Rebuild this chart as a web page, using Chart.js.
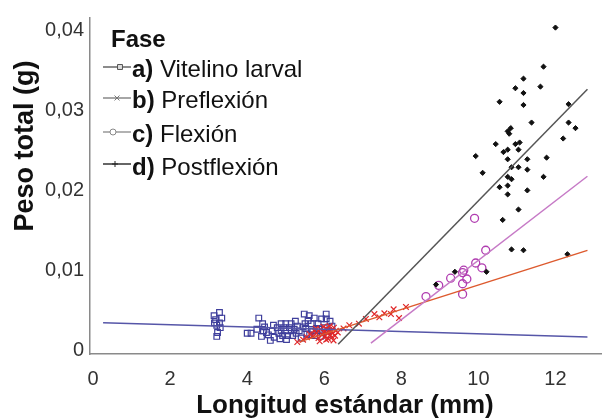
<!DOCTYPE html>
<html><head><meta charset="utf-8">
<script src="https://cdn.jsdelivr.net/npm/chart.js@4.4.1/dist/chart.umd.min.js"></script>
<style>html,body{margin:0;padding:0;background:#fff;} #wrap{width:607px;height:418px;position:relative;}</style>
</head><body><div id="wrap"><canvas id="c" width="607" height="418"></canvas></div>
<script>
// ---- axis ticks / labels ----
const xTicks = [0, 2, 4, 6, 8, 10, 12];
const xTickLabels = ['0', '2', '4', '6', '8', '10', '12'];
const yTicks = [0, 0.01, 0.02, 0.03, 0.04];
const yTickLabels = ['0', '0,01', '0,02', '0,03', '0,04'];
const xTitle = 'Longitud estándar (mm)';
const yTitle = 'Peso total (g)';
const legendTitle = 'Fase';
const seriesKeys = ['a)', 'b)', 'c)', 'd)'];
const seriesNames = ['Vitelino larval', 'Preflexión', 'Flexión', 'Postflexión'];

// ---- a) Vitelino larval ----
const vitelinoX = [3.14,3.28,3.34,3.15,3.21,3.28,3.23,3.21,3.18,3.30,
 4.00,4.10,4.30,4.40,4.42,4.37,4.50,4.60,4.65,4.78,
 4.88,5.00,5.14,4.88,5.00,5.14,4.92,5.05,5.18,5.30,
 5.27,5.40,5.48,5.61,5.74,5.50,5.66,5.52,5.70,5.55,
 5.75,5.84,5.93,6.05,6.05,5.88,6.00,6.20,4.45,4.55,
 4.70,4.82,4.95,5.10,5.22,5.35,5.45,5.58,5.80,5.95,
 6.10,6.15,4.25,4.85,5.25,5.62,5.90,6.08,4.68,5.02];
const vitelinoY = [0.0043,0.0047,0.0040,0.0034,0.0031,0.0034,0.0022,0.0017,0.0038,0.0028,
 0.0021,0.0021,0.0040,0.0033,0.0024,0.0017,0.0022,0.0012,0.0024,0.0028,
 0.0033,0.0033,0.0033,0.0024,0.0024,0.0024,0.0018,0.0018,0.0018,0.0030,
 0.0021,0.0015,0.0045,0.0043,0.0040,0.0033,0.0033,0.0027,0.0024,0.0020,
 0.0018,0.0033,0.0039,0.0039,0.0045,0.0026,0.0028,0.0030,0.0029,0.0019,
 0.0016,0.0021,0.0028,0.0028,0.0026,0.0024,0.0029,0.0037,0.0027,0.0022,
 0.0024,0.0036,0.0026,0.0014,0.0036,0.0019,0.0017,0.0019,0.0031,0.0013];
const vitelinoFitX = [0.26, 12.83];
const vitelinoFitY = [0.00343, 0.00163];

// ---- b) Preflexión ----
const preX = [5.30,5.45,5.55,5.62,5.70,5.75,5.80,5.85,5.90,5.95,6.00,6.02,6.05,6.08,6.10,6.12,6.15,6.18,6.20,6.22,6.25,6.28,6.30,5.88,5.98,6.05,6.14,6.24,5.78,6.35,6.50,6.65,6.90,7.08,7.30,7.43,7.56,7.73,7.80,7.94,8.12];
const preY = [0.0010,0.0013,0.0016,0.0020,0.0018,0.0024,0.0021,0.0015,0.0026,0.0019,0.0023,0.0017,0.0027,0.0021,0.0014,0.0025,0.0019,0.0023,0.0016,0.0021,0.0028,0.0018,0.0024,0.0011,0.0029,0.0013,0.0030,0.0012,0.0027,0.0022,0.0027,0.0031,0.0033,0.0039,0.0045,0.0041,0.0046,0.0045,0.0051,0.0040,0.0054];
const preFitX = [5.35, 12.83];
const preFitY = [0.00102, 0.01248];

// ---- c) Flexión ----
const flexX = [8.64,8.97,9.28,9.59,9.62,9.70,9.59,9.59,9.93,10.09,10.19,9.90];
const flexY = [0.0067,0.0081,0.0090,0.0097,0.0100,0.0089,0.0083,0.0070,0.0109,0.0103,0.0125,0.0165];
const flexFitX = [7.21, 12.83];
const flexFitY = [0.00086, 0.02177];

// ---- d) Postflexión ----
const postX = [12.00,11.69,11.17,10.96,11.61,11.17,10.55,11.17,12.34,11.38,12.34,12.52,10.84,10.76,10.80,12.20,10.45,10.96,11.07,10.65,10.76,11.04,9.93,10.76,11.27,11.77,10.86,11.04,11.27,10.11,10.76,10.86,11.69,10.55,10.76,10.76,11.27,11.04,10.63,10.86,11.17,12.31,10.21,9.39,8.90];
const postY = [0.0404,0.0355,0.0340,0.0328,0.0330,0.0322,0.0311,0.0307,0.0308,0.0285,0.0285,0.0278,0.0278,0.0274,0.0271,0.0265,0.0258,0.0258,0.0260,0.0248,0.0251,0.0251,0.0243,0.0239,0.0239,0.0241,0.0229,0.0229,0.0226,0.0222,0.0217,0.0214,0.0217,0.0204,0.0206,0.0195,0.0200,0.0176,0.0163,0.0126,0.0125,0.0120,0.0098,0.0098,0.0082];
const postFitX = [6.36, 12.83];
const postFitY = [0.00073, 0.03266];

const pts = (xs, ys) => xs.map((x, i) => ({x: x, y: ys[i]}));
const FONT = '"Liberation Sans", Arial, Helvetica, sans-serif';

const scatter = (label, xs, ys, style, color, radius, bw, fill, order) => ({
  label, data: pts(xs, ys), showLine: false, pointStyle: style, pointRadius: radius,
  pointBorderColor: color, pointBackgroundColor: fill, pointBorderWidth: bw, order
});
const fit = (label, xs, ys, color, order) => ({
  label, data: pts(xs, ys), showLine: true, pointRadius: 0, borderColor: color,
  borderWidth: 1.5, fill: false, order
});

const legendMarkers = [
  {style: 'rect', r: 3.5, color: '#555', fill: '#ddd', bw: 1, mx: 120},
  {style: 'crossRot', r: 3.5, color: '#777', fill: '#777', bw: 1, mx: 117},
  {style: 'circle', r: 3, color: '#888', fill: '#fff', bw: 1, mx: 113},
  {style: 'cross', r: 3, color: '#222', fill: '#222', bw: 1, mx: 115}
];
const legendLineColors = ['#666', '#888', '#999', '#333'];

const overlay = {
  id: 'overlay',
  afterDraw(chart) {
    const ctx = chart.ctx;
    ctx.save();
    ctx.fillStyle = '#111';
    // axis titles
    ctx.font = 'bold 26px ' + FONT;
    ctx.textAlign = 'center';
    ctx.textBaseline = 'alphabetic';
    ctx.fillText(xTitle, 345, 413);
    ctx.save();
    ctx.translate(33, 146);
    ctx.rotate(-Math.PI / 2);
    ctx.font = 'bold 27px ' + FONT;
    ctx.fillText(yTitle, 0, 0);
    ctx.restore();
    // legend
    ctx.textAlign = 'left';
    ctx.font = 'bold 24px ' + FONT;
    ctx.fillText(legendTitle, 111, 47);
    const baselines = [77, 108, 142, 175];
    const mids = [67, 98, 132, 164];
    for (let i = 0; i < seriesKeys.length; i++) {
      ctx.strokeStyle = legendLineColors[i];
      ctx.lineWidth = 1.5;
      ctx.beginPath();
      ctx.moveTo(103, mids[i]);
      ctx.lineTo(131, mids[i]);
      ctx.stroke();
      const m = legendMarkers[i];
      ctx.strokeStyle = m.color;
      ctx.fillStyle = m.fill;
      ctx.lineWidth = m.bw;
      Chart.helpers.drawPoint(ctx, {pointStyle: m.style, radius: m.r, rotation: 0, borderWidth: m.bw}, m.mx, mids[i]);
      ctx.fillStyle = '#111';
      ctx.font = 'bold 24px ' + FONT;
      ctx.fillText(seriesKeys[i], 132, baselines[i]);
      const w = ctx.measureText(seriesKeys[i] + ' ').width;
      ctx.font = '24px ' + FONT;
      ctx.fillText(seriesNames[i], 132 + w, baselines[i]);
    }
    ctx.restore();
  }
};

new Chart(document.getElementById('c'), {
  type: 'scatter',
  data: {
    datasets: [
      scatter(seriesNames[0], vitelinoX, vitelinoY, 'rect', '#3f3f9c', 4, 1.2, 'rgba(0,0,0,0)', 8),
      scatter(seriesNames[1], preX, preY, 'crossRot', '#e0282a', 4, 1.2, '#e0282a', 7),
      scatter(seriesNames[2], flexX, flexY, 'circle', '#b03cb0', 4, 1.3, 'rgba(0,0,0,0)', 6),
      scatter(seriesNames[3], postX, postY, 'rectRot', '#111', 2.6, 1, '#111', 5),
      fit('fit a', vitelinoFitX, vitelinoFitY, '#5656a8', 4),
      fit('fit b', preFitX, preFitY, '#dd5a2e', 3),
      fit('fit c', flexFitX, flexFitY, '#c67ac6', 2),
      fit('fit d', postFitX, postFitY, '#555555', 1)
    ]
  },
  options: {
    responsive: false,
    animation: false,
    devicePixelRatio: 1,
    layout: {padding: {top: 10, right: 3, left: 0, bottom: 0}},
    plugins: {legend: {display: false}, tooltip: {enabled: false}},
    scales: {
      x: {
        type: 'linear', min: -0.08, max: 13.2,
        afterBuildTicks: s => { s.ticks = xTicks.map(v => ({value: v})); },
        afterFit: s => { s.height = 64; },
        ticks: {callback: (v, i) => xTickLabels[i], font: {family: FONT, size: 20}, color: '#333', padding: 13, maxRotation: 0},
        grid: {display: false, drawTicks: false},
        border: {display: true, color: '#8a8a8a', width: 1.5}
      },
      y: {
        type: 'linear', min: -0.0005, max: 0.0416,
        afterBuildTicks: s => { s.ticks = yTicks.map(v => ({value: v})); },
        afterFit: s => { s.width = 90; },
        ticks: {callback: (v, i) => yTickLabels[i], font: {family: FONT, size: 20}, color: '#333', padding: 6},
        grid: {display: false, drawTicks: false},
        border: {display: true, color: '#8a8a8a', width: 1.5}
      }
    }
  },
  plugins: [overlay]
});
</script>
</body></html>
